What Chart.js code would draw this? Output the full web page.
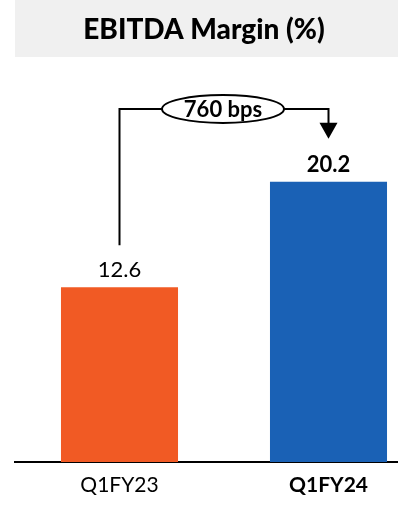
<!DOCTYPE html>
<html>
<head>
<meta charset="utf-8">
<script src="https://cdn.jsdelivr.net/npm/chart.js@4.4.0/dist/chart.umd.min.js"></script>
<style>
  html, body { margin: 0; padding: 0; background: #fff; overflow: hidden; }
  #wrap { width: 433px; height: 505px; }
</style>
</head>
<body>
<div id="wrap"><canvas id="marginChart" width="433" height="505"></canvas></div>
<script>
const categories = ['Q1FY23', 'Q1FY24'];
const marginValues = [12.6, 20.2];
const barColors = ['#F15A24', '#1A61B5'];
const titleText = 'EBITDA Margin (%)';

const FONT = 'Lato, "Open Sans", sans-serif';

// grey header box with the title
const headerPlugin = {
    id: 'header',
    beforeDraw(chart) {
        const ctx = chart.ctx;
        ctx.save();
        ctx.fillStyle = '#F0F0F0';
        ctx.fillRect(15, 0, 383, 57);
        ctx.fillStyle = '#000';
        ctx.font = '900 28px ' + FONT;
        ctx.textAlign = 'center';
        ctx.textBaseline = 'middle';
        ctx.fillText(titleText, 204, 30);
        ctx.restore();
    }
};

// value labels over bars plus the bps change bracket
const labelPlugin = {
    id: 'barLabels',
    afterDatasetsDraw(chart) {
        const ctx = chart.ctx;
        const meta = chart.getDatasetMeta(0);
        const yScale = chart.scales.y;
        ctx.save();
        ctx.fillStyle = '#000';
        ctx.textAlign = 'center';
        ctx.textBaseline = 'alphabetic';
        meta.data.forEach((bar, i) => {
            ctx.font = (i === 1 ? 'bold ' : '') + '22px ' + FONT;
            ctx.fillText(marginValues[i].toFixed(1), bar.x, bar.y - 10);
        });

        const x0 = meta.data[0].x;
        const x1 = meta.data[1].x;
        const yStart = yScale.getPixelForValue(marginValues[0]) - 42;
        const yEnd = yScale.getPixelForValue(marginValues[1]) - 43;
        const yTop = 109;
        const cx = 223, rx = 61, ry = 14;

        ctx.strokeStyle = '#000';
        ctx.lineWidth = 2;
        ctx.beginPath();
        ctx.moveTo(x0, yStart);
        ctx.lineTo(x0, yTop);
        ctx.lineTo(cx - rx, yTop);
        ctx.moveTo(cx + rx, yTop);
        ctx.lineTo(x1, yTop);
        ctx.lineTo(x1, yEnd - 14);
        ctx.stroke();

        // arrow head
        ctx.beginPath();
        ctx.moveTo(x1 - 9, yEnd - 16);
        ctx.lineTo(x1 + 9, yEnd - 16);
        ctx.lineTo(x1, yEnd);
        ctx.closePath();
        ctx.fill();

        // oval with the change in basis points
        ctx.beginPath();
        ctx.ellipse(cx, yTop, rx, ry, 0, 0, Math.PI * 2);
        ctx.fillStyle = '#fff';
        ctx.fill();
        ctx.stroke();

        const bps = Math.round((marginValues[1] - marginValues[0]) * 100);
        ctx.fillStyle = '#000';
        ctx.font = 'bold 22px ' + FONT;
        ctx.textBaseline = 'middle';
        ctx.fillText(bps + ' bps', cx, yTop + 1);
        ctx.restore();
    }
};

new Chart(document.getElementById('marginChart'), {
    type: 'bar',
    data: {
        labels: categories,
        datasets: [{
            data: marginValues,
            backgroundColor: barColors,
            borderWidth: 0,
            barPercentage: 0.56,
            categoryPercentage: 1
        }]
    },
    options: {
        responsive: false,
        animation: false,
        layout: { padding: { top: 57, left: 15, right: 0, bottom: 0 } },
        plugins: {
            legend: { display: false },
            tooltip: { enabled: false }
        },
        scales: {
            x: {
                grid: { display: false, drawTicks: false },
                border: { display: true, color: '#000', width: 2 },
                ticks: {
                    color: '#000',
                    padding: 11,
                    font: (c) => ({ family: FONT, size: 21, weight: c.index === 1 ? 'bold' : 'normal' })
                },
                // fixed axis band so the baseline sits at y = 462
                afterFit: (scale) => { scale.height = 43; }
            },
            y: {
                display: false,
                min: 0,
                max: 29.2
            }
        }
    },
    plugins: [headerPlugin, labelPlugin]
});
</script>
</body>
</html>
